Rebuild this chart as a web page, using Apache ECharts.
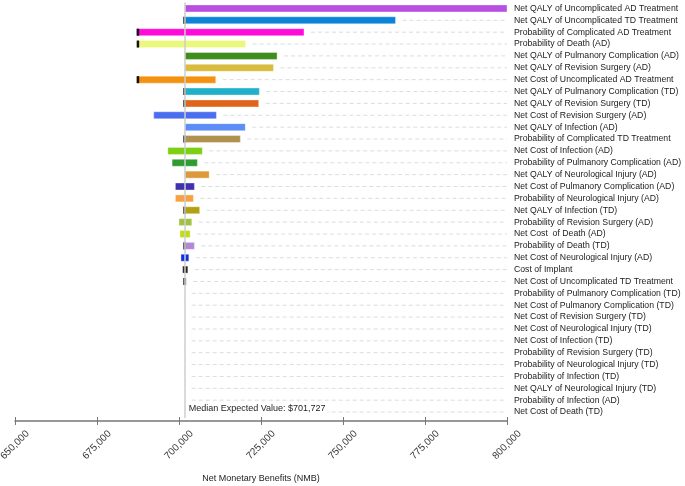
<!DOCTYPE html>
<html>
<head>
<meta charset="utf-8">
<script src="https://cdn.jsdelivr.net/npm/echarts@6/dist/echarts.min.js"></script>
<style>
  html, body { margin: 0; padding: 0; background: #fff; }
  #chart { width: 685px; height: 486px; }
</style>
</head>
<body>
<div id="chart"></div>
<script>
// tornado diagram: NMB range per parameter
const categories = [
  'Net QALY of Uncomplicated AD Treatment',
  'Net QALY of Uncomplicated TD Treatment',
  'Probability of Complicated AD Treatment',
  'Probability of Death (AD)',
  'Net QALY of Pulmanory Complication (AD)',
  'Net QALY of Revision Surgery (AD)',
  'Net Cost of Uncomplicated AD Treatment',
  'Net QALY of Pulmanory Complication (TD)',
  'Net QALY of Revision Surgery (TD)',
  'Net Cost of Revision Surgery (AD)',
  'Net QALY of Infection (AD)',
  'Probability of Complicated TD Treatment',
  'Net Cost of Infection (AD)',
  'Probability of Pulmanory Complication (AD)',
  'Net QALY of Neurological Injury (AD)',
  'Net Cost of Pulmanory Complication (AD)',
  'Probability of Neurological Injury (AD)',
  'Net QALY of Infection (TD)',
  'Probability of Revision Surgery (AD)',
  'Net Cost  of Death (AD)',
  'Probability of Death (TD)',
  'Net Cost of Neurological Injury (AD)',
  'Cost of Implant',
  'Net Cost of Uncomplicated TD Treatment',
  'Probability of Pulmanory Complication (TD)',
  'Net Cost of Pulmanory Complication (TD)',
  'Net Cost of Revision Surgery (TD)',
  'Net Cost of Neurological Injury (TD)',
  'Net Cost of Infection (TD)',
  'Probability of Revision Surgery (TD)',
  'Probability of Neurological Injury (TD)',
  'Probability of Infection (TD)',
  'Net QALY of Neurological Injury (TD)',
  'Probability of Infection (AD)',
  'Net Cost of Death (TD)'
];

const lowValues = [
  701800, 701300, 687100, 687100, 701800, 701800, 687100, 701300, 701300, 692300,
  701800, 701300, 696600, 697900, 701800, 698900, 698900, 701300, 700000, 700300,
  701300, 700600, 701100, 701300, null, null, null, null, null, null,
  null, null, null, null, null
];

const highValues = [
  800000, 766000, 738100, 720300, 729900, 728800, 711200, 724500, 724300, 711400,
  720200, 718700, 707100, 705600, 709200, 704700, 704400, 706300, 703900, 703400,
  704700, 703000, 702700, 702200, null, null, null, null, null, null,
  null, null, null, null, null
];

const barColors = [
  '#b94fe1', '#0b83d9', '#ff0ad9', '#ecf87a', '#3f8d1b', '#d9bc3e', '#f39111', '#1fb1c9',
  '#e0651b', '#4b6ef0', '#5c8cf6', '#b0914f', '#7ccf12', '#2f9b30', '#dc993b', '#4031b1',
  '#f8a143', '#b1a112', '#a1c142', '#c2dc12', '#b189d8', '#1131e0', '#2a261c', '#5d6d5d',
  null, null, null, null, null, null, null, null, null, null, null
];

// small dark segment drawn at the low end of some bars
const lowEdgeMark = [
  0, 1, 1, 1, 0, 0, 1, 1, 1, 0, 0, 1, 0, 0, 0, 0, 0, 1, 0, 0, 1, 0, 0, 1,
  0, 0, 0, 0, 0, 0, 0, 0, 0, 0, 0
];

const MEDIAN = 701727;
const xTicks = { min: 650000, max: 800000, interval: 25000 };

const FONT = "'Liberation Sans', Arial, sans-serif";

const seriesData = categories.map((c, i) => [
  i,
  lowValues[i] == null ? NaN : lowValues[i],
  highValues[i] == null ? NaN : highValues[i]
]);

const chart = echarts.init(document.getElementById('chart'), null, { renderer: 'canvas' });

chart.setOption({
  animation: false,
  grid: { left: 15, right: 178, top: 2.5, bottom: 68, outerBoundsMode: 'none' },
  xAxis: [
    {
      type: 'value',
      min: xTicks.min,
      max: xTicks.max,
      interval: xTicks.interval,
      position: 'bottom',
      offset: 3,
      name: 'Net Monetary Benefits (NMB)',
      nameLocation: 'middle',
      nameGap: 53,
      nameTextStyle: { color: '#222', fontSize: 9, fontFamily: FONT },
      axisLine: { show: true, lineStyle: { color: '#777', width: 1.5 } },
      axisTick: { show: true, length: 4, lineStyle: { color: '#777' } },
      axisLabel: {
        rotate: 45,
        align: 'center',
        verticalAlign: 'middle',
        margin: 24,
        color: '#333',
        fontSize: 10,
        fontFamily: FONT,
        formatter: v => v.toLocaleString('en-US')
      },
      splitLine: { show: false }
    },
    {
      // inner half of the crossing ticks
      type: 'value',
      min: xTicks.min,
      max: xTicks.max,
      interval: xTicks.interval,
      position: 'bottom',
      offset: 3,
      axisLine: { show: false },
      axisTick: { show: true, inside: true, length: 4, lineStyle: { color: '#777' } },
      axisLabel: { show: false },
      splitLine: { show: false }
    }
  ],
  yAxis: {
    type: 'category',
    data: categories,
    inverse: true,
    position: 'right',
    axisLine: { show: false },
    axisTick: { show: false },
    splitLine: { show: false },
    axisLabel: {
      margin: 7,
      color: '#1a1a1a',
      fontSize: 8.7,
      fontFamily: FONT,
      interval: 0
    }
  },
  series: [
    {
      type: 'custom',
      xAxisIndex: 0,
      encode: { x: [1, 2], y: 0 },
      data: seriesData,
      renderItem: (params, api) => {
        const idx = api.value(0);
        const lo = api.value(1);
        const hi = api.value(2);
        const cs = params.coordSys;
        const hasBar = !isNaN(lo) && !isNaN(hi);
        const yc = api.coord([MEDIAN, idx])[1];
        const right = cs.x + cs.width;
        const children = [];

        // dashed leader line out to the label
        const startX = api.coord([hasBar ? Math.max(hi, MEDIAN) : MEDIAN, idx])[0] + 7;
        if (startX < right - 2) {
          children.push({
            type: 'line',
            shape: { x1: startX, y1: yc, x2: right, y2: yc },
            style: { stroke: '#dcdcdc', lineWidth: 1, lineDash: [4, 3] }
          });
        }

        if (hasBar) {
          const x0 = api.coord([lo, idx])[0];
          const x1 = api.coord([hi, idx])[0];
          const h = 7;
          children.push({
            type: 'rect',
            shape: { x: x0, y: yc - h / 2, width: x1 - x0, height: h },
            style: { fill: barColors[idx], stroke: 'rgba(255,255,255,0.35)', lineWidth: 1 }
          });
          if (lowEdgeMark[idx]) {
            children.push({
              type: 'rect',
              shape: { x: x0, y: yc - h / 2, width: 2.5, height: h },
              style: { fill: lo < 695000 ? '#111' : '#444' }
            });
          }
        }
        return { type: 'group', children };
      },
      markLine: {
        silent: true,
        symbol: 'none',
        label: { show: false },
        lineStyle: { color: 'rgba(205,205,205,0.75)', width: 2, type: 'solid' },
        data: [{ xAxis: MEDIAN }]
      },
      markPoint: {
        silent: true,
        symbol: 'rect',
        symbolSize: 0,
        data: [{ coord: [MEDIAN, categories[categories.length - 1]] }],
        label: {
          show: true,
          position: 'right',
          distance: 2,
          offset: [0, -4],
          formatter: 'Median Expected Value: $' + MEDIAN.toLocaleString('en-US'),
          color: '#222',
          fontSize: 9,
          fontFamily: FONT,
          backgroundColor: '#fff',
          padding: [1, 2]
        }
      }
    }
  ]
});
</script>
</body>
</html>
